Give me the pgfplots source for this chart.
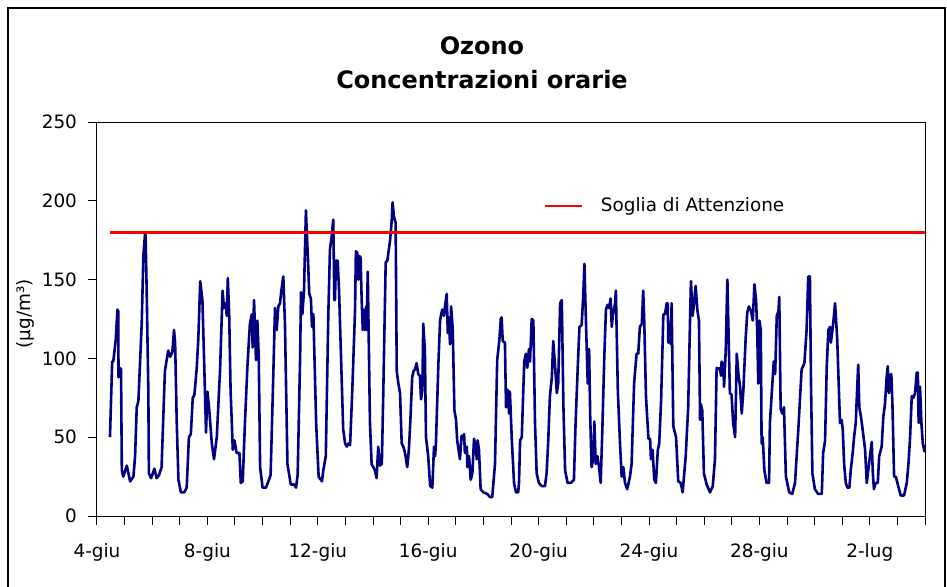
\documentclass[border=0pt]{standalone}
\usepackage{fontspec}
\setmainfont{DejaVu Sans}
\usepackage{pgfplots}
\pgfplotsset{compat=1.18}
\usepackage{pgfplotstable}
\definecolor{ozblue}{HTML}{000080}
\definecolor{soglia}{HTML}{FF0000}

% giorni dal 4-giu 00:00, concentrazione in ug/m3
\pgfplotstableread{
t v
0.47 50
0.55 98
0.59 98
0.68 112
0.74 131
0.77 130
0.78 88
0.83 94
0.87 93
0.90 29
0.95 25
1.08 32
1.20 22
1.32 25
1.38 38
1.44 69
1.50 73
1.62 122
1.68 165
1.74 179
1.76 178
1.80 143
1.86 80
1.88 27
1.96 24
2.08 30
2.16 24
2.25 26
2.34 31
2.46 92
2.58 105
2.65 101
2.73 104
2.79 118
2.83 110
2.89 59
2.95 23
3.04 15
3.16 15
3.25 18
3.33 50
3.40 52
3.47 75
3.53 77
3.61 93
3.67 112
3.74 149
3.82 137
3.91 80
3.95 53
4.00 79
4.06 69
4.16 46
4.24 36
4.34 50
4.46 93
4.55 143
4.60 132
4.67 135
4.70 127
4.74 151
4.79 127
4.84 80
4.92 42
4.98 48
5.06 40
5.16 40
5.21 21
5.28 22
5.36 59
5.45 95
5.54 122
5.61 128
5.64 107
5.69 137
5.76 99
5.81 124
5.86 101
5.91 31
6.00 18
6.12 18
6.21 22
6.29 26
6.37 78
6.45 132
6.51 118
6.57 133
6.63 135
6.68 143
6.75 152
6.81 122
6.90 33
7.02 20
7.14 20
7.21 18
7.27 26
7.36 101
7.39 142
7.44 128
7.50 143
7.57 194
7.60 181
7.65 160
7.69 141
7.75 138
7.79 120
7.84 128
7.94 59
8.03 25
8.15 22
8.20 29
8.29 38
8.38 127
8.44 169
8.50 177
8.56 188
8.60 137
8.62 137
8.66 162
8.72 162
8.77 143
8.92 55
8.99 46
9.05 44
9.11 46
9.17 45
9.25 80
9.35 131
9.38 168
9.43 167
9.47 150
9.50 165
9.55 164
9.59 137
9.63 118
9.65 131
9.71 118
9.75 133
9.77 118
9.81 155
9.89 59
9.95 33
10.01 31
10.07 29
10.13 24
10.19 44
10.25 32
10.32 33
10.37 76
10.46 161
10.52 162
10.62 175
10.68 188
10.71 199
10.76 190
10.82 186
10.86 92
10.92 84
10.98 78
11.04 46
11.10 44
11.16 40
11.24 31
11.30 42
11.36 63
11.42 88
11.47 92
11.52 93
11.58 97
11.64 90
11.70 89
11.74 74
11.79 80
11.82 122
11.88 105
11.92 50
12.00 38
12.07 19
12.15 18
12.21 44
12.25 38
12.28 46
12.37 97
12.43 124
12.46 127
12.51 131
12.57 127
12.61 133
12.67 141
12.71 116
12.75 126
12.79 109
12.83 133
12.89 118
12.95 67
13.01 61
13.05 48
13.15 36
13.21 51
13.25 49
13.30 52
13.33 40
13.40 44
13.42 31
13.48 38
13.54 23
13.60 27
13.66 49
13.72 44
13.76 36
13.79 48
13.84 42
13.90 17
14.00 15
14.14 14
14.24 12
14.32 12
14.42 33
14.50 99
14.58 112
14.63 125
14.66 126
14.70 111
14.78 110
14.82 69
14.88 80
14.93 65
14.96 79
15.03 48
15.11 21
15.18 15
15.26 15
15.29 21
15.33 48
15.39 50
15.48 98
15.54 103
15.59 94
15.65 106
15.69 98
15.75 125
15.81 124
15.87 59
15.93 27
16.01 21
16.11 19
16.23 19
16.29 27
16.35 48
16.41 76
16.48 88
16.53 111
16.59 97
16.66 78
16.71 84
16.78 135
16.84 137
16.90 69
16.96 29
17.05 21
17.17 21
17.28 23
17.34 59
17.42 95
17.48 120
17.56 121
17.62 141
17.66 160
17.71 127
17.78 84
17.83 106
17.87 63
17.92 31
17.98 36
18.02 60
18.07 33
18.13 38
18.19 31
18.25 21
18.31 55
18.38 101
18.44 131
18.50 134
18.55 132
18.61 138
18.65 120
18.69 127
18.77 135
18.80 143
18.87 80
18.95 46
19.01 25
19.07 31
19.13 21
19.21 17
19.31 25
19.37 33
19.46 84
19.55 103
19.61 103
19.67 120
19.74 122
19.79 143
19.83 122
19.89 76
19.98 49
20.04 49
20.07 36
20.13 42
20.19 23
20.25 21
20.32 42
20.37 46
20.44 74
20.52 128
20.58 128
20.64 135
20.68 135
20.70 110
20.74 122
20.79 109
20.82 135
20.88 57
20.98 50
21.06 22
21.15 21
21.22 15
21.33 38
21.42 69
21.49 127
21.52 149
21.58 127
21.63 135
21.69 146
21.75 131
21.81 124
21.85 61
21.88 71
21.93 67
21.99 27
22.09 20
22.21 15
22.31 19
22.39 36
22.45 94
22.51 93
22.57 94
22.61 89
22.63 98
22.69 96
22.72 82
22.78 105
22.84 150
22.89 110
22.93 78
22.99 77
23.05 59
23.12 50
23.18 103
23.24 90
23.30 82
23.36 65
23.42 80
23.50 112
23.56 129
23.62 133
23.70 130
23.76 124
23.82 147
23.88 137
23.92 118
23.96 84
24.00 124
24.05 118
24.08 46
24.12 50
24.18 29
24.26 21
24.35 21
24.38 59
24.47 84
24.52 98
24.57 90
24.63 127
24.69 130
24.72 139
24.77 68
24.83 65
24.89 69
24.96 25
25.08 15
25.19 14
25.29 21
25.41 55
25.53 93
25.63 97
25.71 118
25.77 152
25.83 152
25.87 84
25.92 27
26.01 17
26.13 14
26.26 14
26.31 40
26.38 48
26.44 95
26.50 118
26.56 120
26.59 110
26.66 120
26.70 127
26.74 135
26.78 124
26.82 112
26.88 80
26.92 59
26.98 61
27.02 55
27.07 33
27.13 21
27.19 18
27.26 18
27.31 29
27.38 40
27.43 50
27.49 59
27.58 96
27.62 69
27.68 63
27.74 55
27.83 42
27.89 21
27.97 33
28.07 47
28.11 27
28.15 17
28.21 21
28.29 21
28.34 38
28.43 44
28.49 63
28.55 71
28.61 88
28.65 95
28.69 78
28.73 89
28.78 90
28.82 71
28.88 25
28.94 25
29.03 19
29.12 13
29.24 13
29.34 21
29.40 33
29.46 50
29.52 76
29.58 75
29.64 78
29.70 91
29.74 91
29.77 59
29.82 82
29.87 59
29.92 46
29.98 41
30.00 45
}\ozono

\newcommand{\tickfont}{\fontsize{9.2}{11}\selectfont}

\begin{document}
\begin{tikzpicture}
\useasboundingbox (-48.5pt,-35pt) rectangle (425pt,258pt);
\draw[black, line width=0.6pt] (-44.5pt,-60pt) rectangle (424pt,254pt);
\begin{axis}[
    scale only axis,
    width=414pt, height=197pt,
    at={(0pt,0pt)}, anchor=south west,
    xmin=0, xmax=30, ymin=0, ymax=250,
    xtick={0,4,...,28},
    xticklabels={4-giu,8-giu,12-giu,16-giu,20-giu,24-giu,28-giu,2-lug},
    minor xtick={0,...,30},
    ytick={0,50,...,250},
    tick align=outside,
    xtick pos=left, ytick pos=left,
    major tick length=4.5pt, minor tick length=4.5pt,
    every tick/.style={black, line width=0.5pt},
    axis line style={black, line width=0.5pt},
    tick label style={font=\tickfont},
    xticklabel style={yshift=-5.5pt},
    yticklabel style={xshift=-2pt},
    /pgf/number format/assume math mode=true,
    ylabel={(µg/m³)},
    every axis y label/.style={at={(axis description cs:-0.087,0.513)}, rotate=90, anchor=center, font=\tickfont},
    legend style={at={(axis description cs:0.5386,0.787)}, anchor=west,
        draw=none, fill=none, inner sep=0pt, font=\tickfont,
        nodes={inner sep=0pt, anchor=west}, column sep=9pt},
    legend image code/.code={\draw[#1] (0pt,0pt) -- (18.5pt,0pt);},
]
\addplot[ozblue, line width=1.3pt, line join=round, forget plot] table[x=t, y=v] {\ozono};
\addplot[soglia, line width=1.3pt] coordinates {(0.47,180) (30,180)};
\addlegendentry{Soglia di Attenzione}
\end{axis}
\node[anchor=base, font=\bfseries\fontsize{12}{14}\selectfont] at (192.5pt,231pt) {Ozono};
\node[anchor=base, font=\bfseries\fontsize{12}{14}\selectfont] at (192.5pt,214pt) {Concentrazioni orarie};
\end{tikzpicture}
\end{document}
